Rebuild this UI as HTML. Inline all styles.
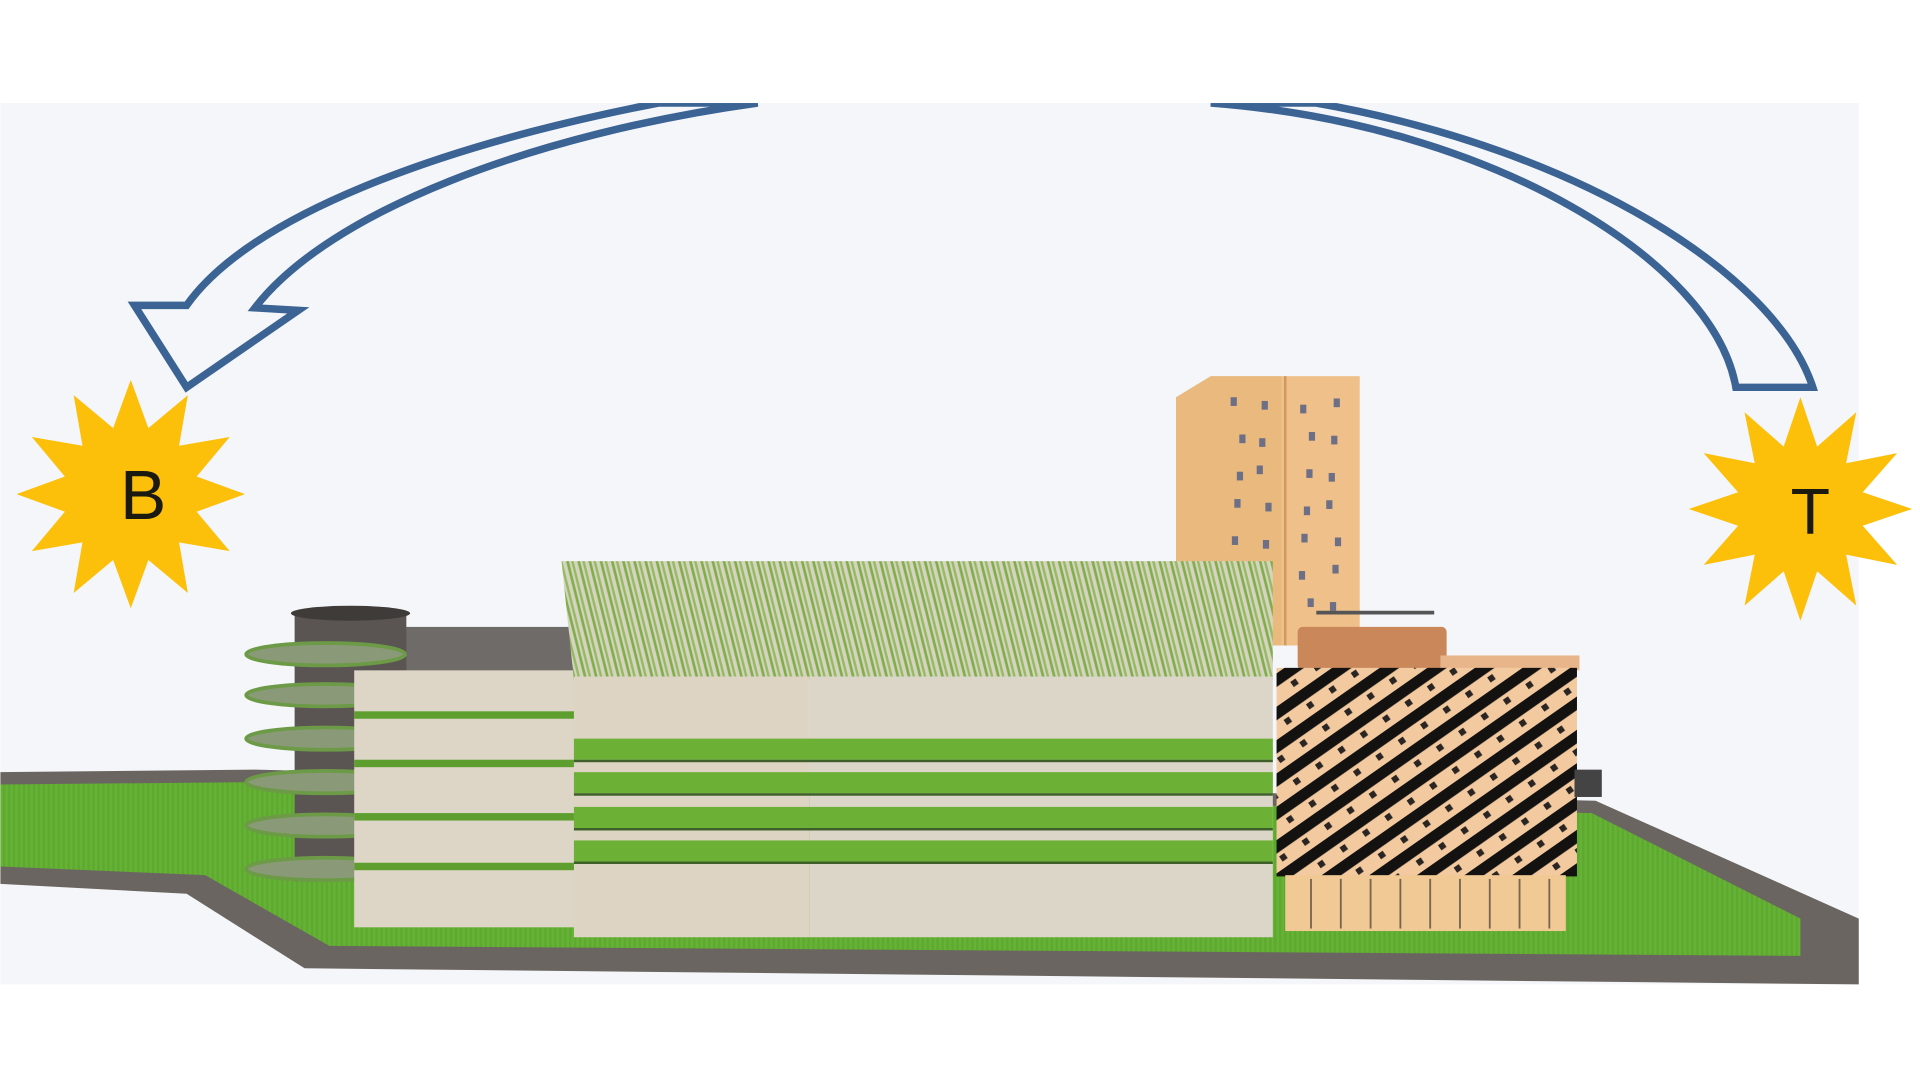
<!DOCTYPE html>
<html><head><meta charset="utf-8"><style>
html,body{margin:0;padding:0;background:#fff;width:1920px;height:1080px;overflow:hidden}
svg{display:block}
</style></head><body>
<svg id="scene" width="1920" height="1080" viewBox="0 0 1546 870" xmlns="http://www.w3.org/2000/svg">
<defs>
<pattern id="roofLines" width="9" height="100" patternUnits="userSpaceOnUse" patternTransform="skewX(14)">
<rect width="9" height="100" fill="#d6d3c0"/>
<rect x="1" width="2.2" height="100" fill="#7fae4a"/>
<rect x="5" width="2" height="100" fill="#95bb62"/>
</pattern>
<pattern id="facade" width="22" height="22" patternUnits="userSpaceOnUse" patternTransform="rotate(-35)">
<rect width="22" height="22" fill="#f3caa0"/>
<rect y="0" width="22" height="9" fill="#141210"/>
<rect x="8" y="12" width="5" height="5" fill="#2a2522"/>
</pattern>
<pattern id="grassTex" width="4" height="4" patternUnits="userSpaceOnUse">
<rect width="4" height="4" fill="#5ea92f"/><rect width="2" height="4" fill="#66b236"/>
</pattern>
</defs>
<rect x="0" y="83" width="1497" height="710" fill="#f4f6f9"/>

<path d="M0,622 L205,620 L1285,645 L1497,740 L1497,793 L245,780 L150,720 L0,712 Z" fill="#6a6560"/>
<path d="M0,632 L205,630 L1282,655 L1450,740 L1450,770 L265,762 L165,705 L0,698 Z" fill="url(#grassTex)"/>

<path d="M610,83 C430,108 265,170 205,248 L240,250 L150,312 L108,246 L150,246 C200,175 350,118 530,83 Z" fill="#f4f6f9" stroke="#3b6394" stroke-width="6" stroke-linejoin="miter"/>
<path d="M975,83 C1200,100 1380,210 1398,312 L1460,312 C1430,220 1270,120 1060,83 Z" fill="#f4f6f9" stroke="#3b6394" stroke-width="6"/>
<rect x="0" y="74" width="1546" height="9" fill="#fff"/>

<g id="sunB"></g>
<text x="115" y="418" font-family="Liberation Sans, sans-serif" font-size="56" text-anchor="middle" fill="#1a1a10">B</text>
<g id="sunT"></g>
<text x="1458" y="430" font-family="Liberation Sans, sans-serif" font-size="52" text-anchor="middle" fill="#1a1a10">T</text>

<rect x="320" y="505" width="145" height="40" fill="#6e6b68"/>
<rect x="237" y="495" width="90" height="215" fill="#5a5552"/>
<ellipse cx="282" cy="494" rx="48" ry="6" fill="#3e3b39"/>
<g id="disks"></g>

<rect x="285" y="540" width="178" height="207" fill="#ddd5c6"/>
<g id="leftStripes"></g>

<polygon points="947,320 975,303 1032,303 1032,520 947,520" fill="#e9b97e"/>
<rect x="1032" y="303" width="63" height="217" fill="#f0c08a"/>
<line x1="1035" y1="303" x2="1035" y2="520" stroke="#d19a5c" stroke-width="2"/>
<g id="windows"></g>

<polygon points="452,452 1025,452 1025,548 462,548" fill="url(#roofLines)"/>
<rect x="462" y="545" width="190" height="210" fill="#ddd4c4"/>
<rect x="652" y="545" width="373" height="210" fill="#dcd6c9"/>
<g id="mainStripes"></g>

<rect x="1060" y="492" width="95" height="3" fill="#555"/>
<rect x="1045" y="505" width="120" height="35" rx="4" fill="#c9875a"/>
<rect x="1160" y="528" width="112" height="12" fill="#e8b58a"/>
<rect x="1028" y="538" width="242" height="168" fill="url(#facade)"/>
<rect x="1268" y="620" width="22" height="22" fill="#444"/>
<rect x="1035" y="705" width="226" height="45" fill="#f1c994"/>
<g id="woodLines"></g>
</svg>
<script>
function star(cx,cy,ro,ri,n,id,name){
  var g=document.getElementById(id);
  var pts=[];
  for(var i=0;i<2*n;i++){var r=i%2?ri:ro;var a=Math.PI*i/n-Math.PI/2;pts.push((cx+r*Math.cos(a)).toFixed(1)+','+(cy+r*Math.sin(a)).toFixed(1));}
  var p=document.createElementNS('http://www.w3.org/2000/svg','polygon');
  
  
  p.setAttribute('points',pts.join(' '));p.setAttribute('fill','#fcbf0a');g.appendChild(p);
}
star(105,398,92,55,12,'sunB','sun-b-star');
star(1450,410,90,52,12,'sunT','sun-t-star');
var NS='http://www.w3.org/2000/svg';
function add(gid,tag,attrs,name){var e=document.createElementNS(NS,tag);for(var k in attrs)e.setAttribute(k,attrs[k]);


document.getElementById(gid).appendChild(e);}
[527,560,595,630,665,700].forEach(function(y){add('disks','ellipse',{cx:262,cy:y,rx:64,ry:9,fill:'#8a9a78',stroke:'#6c9a46','stroke-width':3},'spiral-ramp');});
[573,612,655,695].forEach(function(y){add('leftStripes','rect',{x:285,y:y,width:178,height:6,fill:'#5d9e2f'},'left-stripe');});
[595,622,650,677].forEach(function(y){add('mainStripes','rect',{x:462,y:y,width:563,height:17,fill:'#6cb135'},'green-stripe');
add('mainStripes','rect',{x:462,y:y+17,width:563,height:2,fill:'#3f5f2a'},'stripe-shadow');});
for(var r=0;r<7;r++)for(var c=0;c<4;c++){var x=[995,1015,1050,1072][c]+((r*7+c*5)%9)-4;var y=320+r*27+((c*11+r*3)%8);
add('windows','rect',{x:x,y:y,width:5,height:7,fill:'#6c6f86'},'tower-window');}
for(var i=0;i<9;i++)add('woodLines','rect',{x:1055+i*24,y:708,width:1.5,height:40,fill:'#7a6650'},'wood-line');
</script>
</body></html>
